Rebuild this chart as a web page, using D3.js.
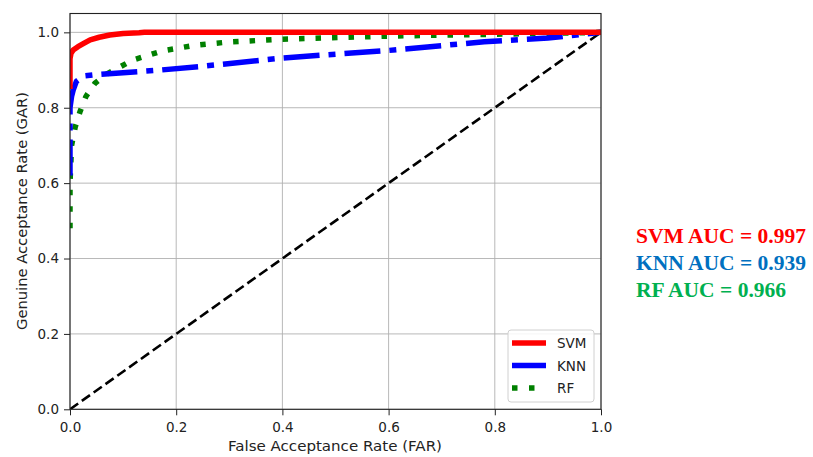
<!DOCTYPE html>
<html>
<head>
<meta charset="utf-8">
<script src="https://cdn.jsdelivr.net/npm/d3@7"></script>
<style>
  body { margin: 0; background: #fff; }
  svg { display: block; }
</style>
</head>
<body>
<svg id="chart"></svg>
<script>
// ROC curve points: [FAR, GAR]
const svmFar = [0, 0, 0.002, 0.006, 0.015, 0.025, 0.038, 0.055, 0.075, 0.1, 0.13, 0.14, 0.3, 0.6, 1.0];
const svmGar = [0.85, 0.93, 0.945, 0.953, 0.962, 0.97, 0.98, 0.987, 0.993, 0.997, 0.999, 1.0, 1.0, 1.0, 1.0];
const knnFar = [0, 0, 0.003, 0.006, 0.012, 0.025, 0.05, 0.1, 0.17, 0.25, 0.4, 0.6, 0.78, 0.9, 1.0];
const knnGar = [0.62, 0.8, 0.83, 0.847, 0.87, 0.884, 0.888, 0.893, 0.9, 0.91, 0.932, 0.952, 0.975, 0.985, 1.0];
const rfFar = [0, 0, 0.003, 0.01, 0.019, 0.03, 0.047, 0.07, 0.119, 0.175, 0.236, 0.296, 0.4, 0.6, 0.8, 1.0];
const rfGar = [0.48, 0.6, 0.7, 0.75, 0.79, 0.83, 0.865, 0.89, 0.927, 0.951, 0.966, 0.974, 0.982, 0.99, 0.995, 1.0];
const seriesNames = ["SVM", "KNN", "RF"];
const aucValues = ["0.997", "0.939", "0.966"];
const xTicks = [0, 0.2, 0.4, 0.6, 0.8, 1.0];
const yTicks = [0, 0.2, 0.4, 0.6, 0.8, 1.0];

const width = 813, height = 457;
const svg = d3.select("#chart").attr("width", width).attr("height", height);

const x = d3.scaleLinear().domain([0, 1]).range([70, 601]);
const y = d3.scaleLinear().domain([0, 1.05]).range([409.3, 13.5]);

// grid
const grid = svg.append("g");
grid.selectAll(".gx").data(xTicks).enter().append("line")
  .attr("x1", d => x(d)).attr("x2", d => x(d))
  .attr("y1", y(0)).attr("y2", y(1.05))
  .attr("stroke", "#b0b0b0").attr("stroke-width", 0.9);
grid.selectAll(".gy").data(yTicks).enter().append("line")
  .attr("x1", x(0)).attr("x2", x(1))
  .attr("y1", d => y(d)).attr("y2", d => y(d))
  .attr("stroke", "#b0b0b0").attr("stroke-width", 0.9);

const line = d3.line().x(d => x(d[0])).y(d => y(d[1]));
const zip = (a, b) => a.map((v, i) => [v, b[i]]);

const plot = svg.append("g");
plot.append("clipPath").attr("id", "clip").append("rect")
  .attr("x", x(0)).attr("y", y(1.05)).attr("width", x(1) - x(0)).attr("height", y(0) - y(1.05));
const lines = plot.append("g").attr("clip-path", "url(#clip)");

// diagonal
lines.append("path").datum([[0, 0], [1, 1]])
  .attr("d", line).attr("fill", "none")
  .attr("stroke", "#000").attr("stroke-width", 2.6)
  .attr("stroke-dasharray", "10,4.5");

lines.append("path").datum(zip(rfFar, rfGar))
  .attr("d", line).attr("fill", "none")
  .attr("stroke", "green").attr("stroke-width", 5.5)
  .attr("stroke-dasharray", "5.5,11");

lines.append("path").datum(zip(knnFar, knnGar))
  .attr("d", line).attr("fill", "none")
  .attr("stroke", "blue").attr("stroke-width", 5.5)
  .attr("stroke-dasharray", "36,9,7,9");

lines.append("path").datum(zip(svmFar, svmGar))
  .attr("d", line).attr("fill", "none")
  .attr("stroke", "red").attr("stroke-width", 5.5)
  .attr("stroke-linejoin", "round");

// axes
const xAxis = svg.append("g")
  .attr("transform", `translate(0,${y(0)})`)
  .call(d3.axisBottom(x).tickValues(xTicks).tickFormat(d3.format(".1f")).tickSize(6).tickPadding(7));
const yAxis = svg.append("g")
  .attr("transform", `translate(${x(0)},0)`)
  .call(d3.axisLeft(y).tickValues(yTicks).tickFormat(d3.format(".1f")).tickSize(6).tickPadding(5));
[xAxis, yAxis].forEach(a => {
  a.select(".domain").remove();
  a.selectAll("text").attr("font-family", "DejaVu Sans").attr("font-size", 13.5).attr("fill", "#222");
  a.selectAll("line").attr("stroke", "#222");
});

svg.append("rect")
  .attr("x", x(0)).attr("y", y(1.05))
  .attr("width", x(1) - x(0)).attr("height", y(0) - y(1.05))
  .attr("fill", "none").attr("stroke", "#222").attr("stroke-width", 1.1);

svg.append("text")
  .attr("x", 335).attr("y", 451)
  .attr("text-anchor", "middle")
  .attr("font-family", "DejaVu Sans").attr("font-size", 14).attr("fill", "#222")
  .attr("textLength", 214).attr("lengthAdjust", "spacingAndGlyphs")
  .text("False Acceptance Rate (FAR)");
svg.append("text")
  .attr("transform", `translate(27,211) rotate(-90)`)
  .attr("text-anchor", "middle")
  .attr("font-family", "DejaVu Sans").attr("font-size", 14).attr("fill", "#222")
  .attr("textLength", 238).attr("lengthAdjust", "spacingAndGlyphs")
  .text("Genuine Acceptance Rate (GAR)");

// legend
const legend = svg.append("g");
legend.append("rect")
  .attr("x", 508).attr("y", 330).attr("width", 86).attr("height", 72).attr("rx", 3)
  .attr("fill", "#fff").attr("fill-opacity", 0.85)
  .attr("stroke", "#d0d0d0").attr("stroke-width", 1);
const legendStyles = [
  { color: "red", dash: null },
  { color: "blue", dash: "36,9" },
  { color: "green", dash: "5.5,11.5" }
];
seriesNames.forEach((name, i) => {
  const ly = 343 + i * 22.5;
  legend.append("line")
    .attr("x1", 512).attr("x2", 546).attr("y1", ly).attr("y2", ly)
    .attr("stroke", legendStyles[i].color).attr("stroke-width", 5.5)
    .attr("stroke-dasharray", legendStyles[i].dash);
  legend.append("text")
    .attr("x", 557).attr("y", ly + 5)
    .attr("font-family", "DejaVu Sans").attr("font-size", 13.5).attr("fill", "#222")
    .text(name);
});

// AUC annotations
const aucColors = ["#ff0000", "#0070c0", "#00b050"];
seriesNames.forEach((name, i) => {
  svg.append("text")
    .attr("x", 636).attr("y", 243 + i * 27)
    .attr("font-family", "Liberation Serif").attr("font-weight", "bold")
    .attr("font-size", 21.5).attr("fill", aucColors[i])
    .text(`${name} AUC = ${aucValues[i]}`);
});
</script>
</body>
</html>
